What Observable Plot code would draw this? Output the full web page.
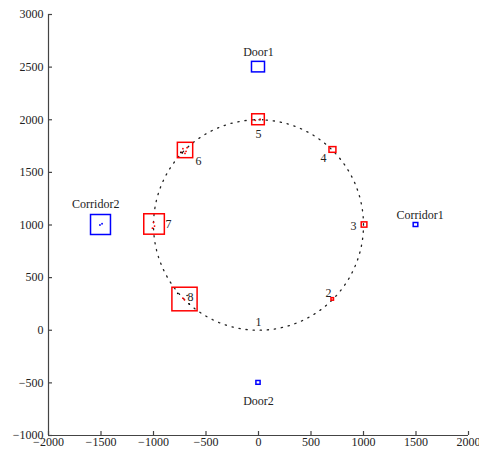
<!DOCTYPE html>
<html><head><meta charset="utf-8">
<script src="https://cdn.jsdelivr.net/npm/d3@7"></script>
<script src="https://cdn.jsdelivr.net/npm/@observablehq/plot@0.6"></script>
<style>
body{margin:0;background:#fff}
svg{font-family:"Liberation Serif","Times New Roman",serif}
</style>
</head><body><div id="chart"></div>
<script>
// Axis ticks
const xTicks = [-2000, -1500, -1000, -500, 0, 500, 1000, 1500, 2000];
const yTicks = [-1000, -500, 0, 500, 1000, 1500, 2000, 2500, 3000];

// Landmarks (blue)
const landmarkNames = ["Door1", "Door2", "Corridor1", "Corridor2"];
const landmarkX = [0, 0, 1500, -1500];
const landmarkY = [2500, -500, 1000, 1000];
const landmarkHalfW = [62, 20, 22, 95];
const landmarkHalfH = [50, 18, 19, 95];
const landmarkLabelX = [0, 0, 1540, -1550];
const landmarkLabelY = [2640, -670, 1090, 1195];

// Robot positions 1..8 (red)
const posNames = ["1", "2", "3", "4", "5", "6", "7", "8"];
const posX = [0, 707, 1010, 709, 0, -695, -990, -700];
const posY = [0, 293, 1000, 1713, 2000, 1708, 1005, 292];
const posHalfW = [0, 12, 27, 33, 60, 73, 98, 120];
const posHalfH = [0, 12, 25, 27, 52, 73, 97, 112];
const posLabelX = [0, 667, 905, 619, 0, -571, -857, -648];
const posLabelY = [74, 349, 986, 1632, 1860, 1603, 1005, 311];

// Scattered samples inside the boxes
const sampleRedX = [-720, -690, -680, -735, -700, -1000, -990, -1010, -720, -705, 15, -30];
const sampleRedY = [1725, 1700, 1735, 1690, 1680, 1025, 990, 970, 305, 290, 2005, 1995];
const sampleBlackX = [-40, 40, -740, -770, -660, -680, -725];
const sampleBlackY = [2000, 2000, 1690, 350, 250, 330, 1685];
const sampleBlueX = [-1510, -1490];
const sampleBlueY = [1000, 1012];

// Reference circle
const circleCenterX = 0, circleCenterY = 1000, circleRadius = 1000;

const landmarks = landmarkNames.map((n, i) => ({
  name: n, x: landmarkX[i], y: landmarkY[i], hw: landmarkHalfW[i], hh: landmarkHalfH[i],
  lx: landmarkLabelX[i], ly: landmarkLabelY[i]
}));
const positions = posNames.map((n, i) => ({
  name: n, x: posX[i], y: posY[i], hw: posHalfW[i], hh: posHalfH[i],
  lx: posLabelX[i], ly: posLabelY[i]
}));
const circle = d3.range(0, 361, 2).map(a => ({
  x: circleCenterX + circleRadius * Math.cos(a * Math.PI / 180),
  y: circleCenterY + circleRadius * Math.sin(a * Math.PI / 180)
}));
const samples = (xs, ys) => xs.map((x, i) => ({x, y: ys[i]}));

const fmt = d => d < 0 ? "\u2212" + Math.abs(d) : String(d);
const xMin = xTicks[0], yMin = yTicks[0];

const chart = Plot.plot({
  width: 479,
  height: 455,
  marginLeft: 48,
  marginRight: 11,
  marginTop: 14,
  marginBottom: 20,
  x: {type: "linear", domain: [-2000, 2000], axis: null},
  y: {type: "linear", domain: [-1000, 3000], axis: null},
  style: {fontFamily: "Liberation Serif, Times New Roman, serif", background: "#fff"},
  marks: [
    Plot.line(circle, {x: "x", y: "y", stroke: "#222", strokeWidth: 1.3, strokeDasharray: "1.3 5.8"}),
    Plot.rect(positions.filter(d => d.hw > 0), {
      x1: d => d.x - d.hw, x2: d => d.x + d.hw, y1: d => d.y - d.hh, y2: d => d.y + d.hh,
      fill: "none", stroke: "#ff0000", strokeWidth: 1.5
    }),
    Plot.rect(landmarks, {
      x1: d => d.x - d.hw, x2: d => d.x + d.hw, y1: d => d.y - d.hh, y2: d => d.y + d.hh,
      fill: "none", stroke: "#0000ff", strokeWidth: 1.5
    }),
    Plot.dot(samples(sampleRedX, sampleRedY), {x: "x", y: "y", r: 0.9, fill: "#ff0000", stroke: "none"}),
    Plot.dot(samples(sampleBlackX, sampleBlackY), {x: "x", y: "y", r: 0.8, fill: "#000", stroke: "none"}),
    Plot.dot(samples(sampleBlueX, sampleBlueY), {x: "x", y: "y", r: 0.9, fill: "#0000ff", stroke: "none"}),
    Plot.text(positions, {x: "lx", y: "ly", text: "name", fontSize: 12, fill: "#222"}),
    Plot.text(landmarks, {x: "lx", y: "ly", text: "name", fontSize: 12, fill: "#222"}),
    Plot.ruleX([xMin], {stroke: "#444", strokeWidth: 1.2}),
    Plot.ruleY([yMin], {stroke: "#444", strokeWidth: 1.2}),
    Plot.ruleX(xTicks, {x: d => d, y1: yMin, y2: yMin, insetTop: -4, stroke: "#444", strokeWidth: 1.2}),
    Plot.ruleY(yTicks, {y: d => d, x1: xMin, x2: xMin, insetRight: -4, stroke: "#444", strokeWidth: 1.2}),
    Plot.axisX(xTicks, {anchor: "bottom", tickSize: 0, tickPadding: 2, tickFormat: fmt, fontSize: 12, fill: "#222"}),
    Plot.axisY(yTicks, {anchor: "left", tickSize: 0, tickPadding: 5, tickFormat: fmt, fontSize: 12, fill: "#222"})
  ]
});
document.getElementById("chart").appendChild(chart);
</script>
</body></html>
